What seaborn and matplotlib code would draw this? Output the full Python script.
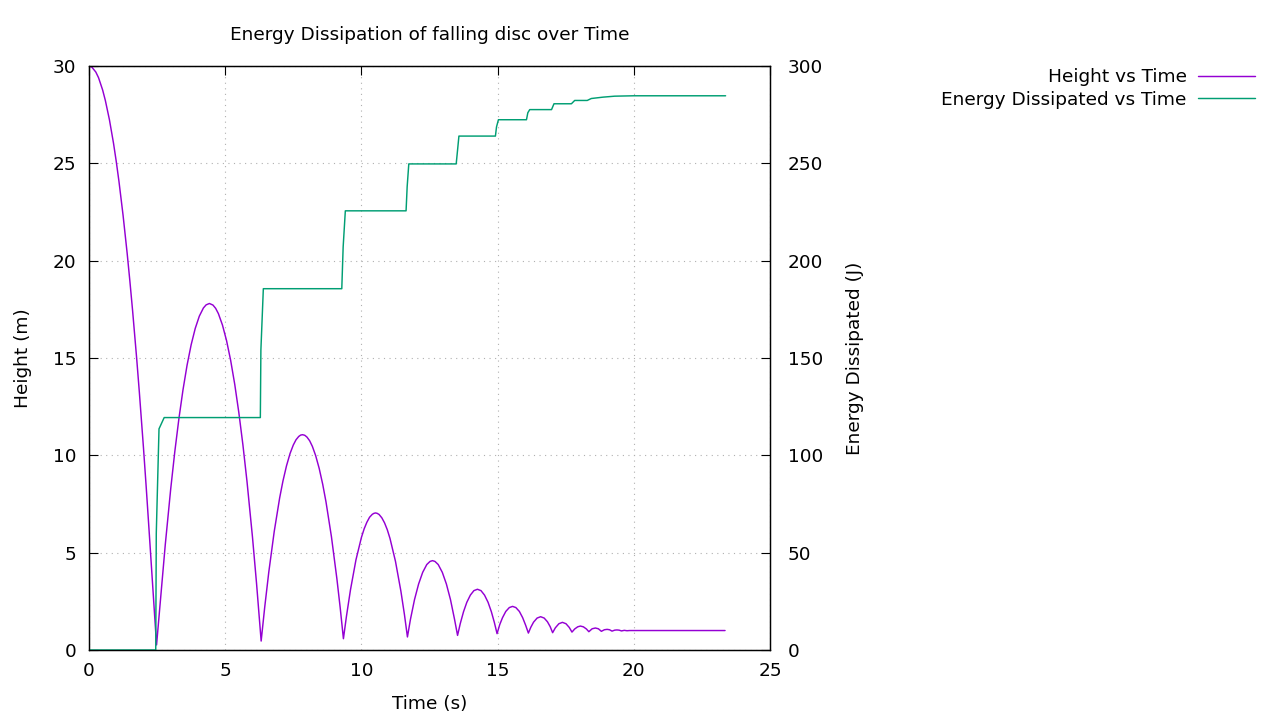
import matplotlib
matplotlib.use("Agg")
import matplotlib.pyplot as plt
import seaborn as sns
import pandas as pd

# Height of the disc
t_height = [0, 0.1, 0.25, 0.35, 0.5, 0.6, 0.75, 0.9, 1.0, 1.1, 1.25, 1.4, 1.5, 1.6, 1.75, 1.85,
            2.0, 2.1, 2.2, 2.35, 2.48,
            2.6, 2.8, 3.0, 3.15, 3.3, 3.45, 3.6, 3.75, 3.9, 4.05, 4.2, 4.3, 4.42, 4.55, 4.65, 4.75,
            4.9, 5.05, 5.2, 5.35, 5.5, 5.65, 5.8, 6.0, 6.15, 6.32,
            6.45, 6.6, 6.8, 7.0, 7.12, 7.25, 7.38, 7.5, 7.6, 7.7, 7.77, 7.84, 7.92, 8.0, 8.1, 8.2,
            8.32, 8.45, 8.58, 8.7, 8.9, 9.1, 9.22, 9.34,
            9.45, 9.6, 9.8, 10.0, 10.1, 10.2, 10.3, 10.4, 10.46, 10.52, 10.58, 10.65, 10.75, 10.85,
            10.95, 11.05, 11.25, 11.45, 11.58, 11.69,
            11.8, 11.95, 12.1, 12.25, 12.4, 12.52, 12.61, 12.7, 12.82, 12.97, 13.12, 13.27, 13.42, 13.53,
            13.63, 13.75, 13.87, 14.0, 14.13, 14.26, 14.39, 14.52, 14.65, 14.77, 14.88, 14.98,
            15.08, 15.18, 15.3, 15.43, 15.55, 15.67, 15.8, 15.92, 16.03, 16.13,
            16.22, 16.32, 16.45, 16.58, 16.71, 16.83, 16.93, 17.02,
            17.12, 17.25, 17.38, 17.51, 17.63, 17.73,
            17.83, 17.94, 18.04, 18.15, 18.26, 18.35,
            18.47, 18.59, 18.7, 18.81,
            18.92, 19.02, 19.11, 19.2,
            19.3, 19.38, 19.46, 19.55,
            19.65, 19.75, 19.85, 23.35]
height = [30, 29.95, 29.69, 29.40, 28.77, 28.23, 27.24, 26.03, 25.10, 24.07, 22.34, 20.39, 18.96, 17.44,
          14.98, 13.21, 10.38, 8.37, 6.26, 3.0, 0.26,
          2.17, 5.41, 8.28, 10.19, 11.88, 13.36, 14.63, 15.68, 16.52, 17.15, 17.57, 17.73, 17.8, 17.72,
          17.55, 17.28, 16.69, 15.89, 14.88, 13.65, 12.2, 10.54, 8.66, 5.82, 3.43, 0.46,
          2.19, 4.0, 6.09, 7.82, 8.68, 9.46, 10.09, 10.53, 10.80, 10.97, 11.04, 11.06, 11.03, 10.94,
          10.75, 10.46, 9.99, 9.33, 8.51, 7.61, 5.82, 3.66, 2.19, 0.58,
          1.72, 3.10, 4.63, 5.78, 6.22, 6.56, 6.82, 6.97, 7.02, 7.04, 7.02, 6.96, 6.79, 6.53,
          6.18, 5.73, 4.56, 3.02, 1.82, 0.67,
          1.57, 2.59, 3.39, 3.99, 4.39, 4.55, 4.59, 4.55, 4.39, 3.99, 3.39, 2.59, 1.57, 0.75,
          1.36, 1.97, 2.45, 2.82, 3.05, 3.12, 3.05, 2.82, 2.45, 1.97, 1.42, 0.84,
          1.31, 1.66, 1.98, 2.18, 2.24, 2.18, 1.98, 1.66, 1.27, 0.87,
          1.17, 1.43, 1.64, 1.71, 1.64, 1.45, 1.20, 0.89,
          1.14, 1.35, 1.42, 1.35, 1.16, 0.92,
          1.08, 1.19, 1.23, 1.19, 1.08, 0.94,
          1.09, 1.13, 1.09, 0.96,
          1.04, 1.06, 1.04, 0.97,
          1.02, 1.03, 1.02, 0.98,
          1.01, 0.99, 1.0, 1.0]

# Cumulative energy dissipated
t_energy = [0, 2.45, 2.47, 2.57, 2.76, 6.29, 6.31, 6.40, 9.28, 9.33, 9.41,
            11.64, 11.68, 11.74, 13.48, 13.53, 13.58, 14.92, 14.96, 15.03,
            16.06, 16.11, 16.18, 16.98, 17.07, 17.71, 17.83, 18.29, 18.44,
            18.87, 19.30, 20.0, 23.37]
energy = [0, 0, 60, 113.6, 119.4, 119.4, 154, 185.6, 185.6, 207, 225.6,
          225.6, 238, 249.7, 249.7, 256.8, 264, 264, 268.7, 272.4,
          272.4, 276, 277.6, 277.6, 280.6, 280.6, 282.3, 282.3, 283.3,
          284, 284.5, 284.7, 284.7]

df_h = pd.DataFrame({"t": t_height, "h": height})
df_e = pd.DataFrame({"t": t_energy, "e": energy})

sns.set_theme(style="white")
plt.rcParams["font.family"] = ["DejaVu Sans"]
plt.rcParams["text.color"] = "black"
plt.rcParams["axes.labelcolor"] = "black"
fs = 13.3

fig = plt.figure(figsize=(12.8, 7.2), dpi=100)
ax = fig.add_axes([89 / 1280, 1 - 650 / 720, 681 / 1280, 584 / 720])
ax2 = ax.twinx()

sns.lineplot(data=df_h, x="t", y="h", ax=ax, color="#9400d3", lw=1.05,
             estimator=None, sort=False, label="Height vs Time", legend=False)
sns.lineplot(data=df_e, x="t", y="e", ax=ax2, color="#009e73", lw=1.05,
             estimator=None, sort=False, label="Energy Dissipated vs Time", legend=False)

ax.set_xlim(0, 25)
ax.set_ylim(0, 30)
ax2.set_ylim(0, 300)
ax.set_xticks([0, 5, 10, 15, 20, 25])
ax.set_yticks([0, 5, 10, 15, 20, 25, 30])
ax2.set_yticks([0, 50, 100, 150, 200, 250, 300])

ax.grid(True, color="#b0b0b0", linestyle=(0, (1, 4)), lw=0.8)
ax2.grid(False)

for a in (ax, ax2):
    for s in a.spines.values():
        s.set_color("black")
        s.set_linewidth(0.9)
        s.set_visible(True)

ax.tick_params(axis="x", direction="in", length=6.5, width=0.8, top=True,
               labelsize=fs, pad=9, colors="black")
ax.tick_params(axis="y", direction="in", length=6.5, width=0.8, left=True,
               right=False, labelsize=fs, pad=9, colors="black")
ax2.tick_params(axis="y", direction="in", length=6.5, width=0.8, right=True,
                labelsize=fs, pad=13, colors="black")

ax.set_xlabel("Time (s)", fontsize=fs, labelpad=10.5)
ax.set_ylabel("Height (m)", fontsize=fs, labelpad=15)
ax2.set_ylabel("Energy Dissipated (J)", fontsize=fs, labelpad=16.5)
ax.set_title("Energy Dissipation of falling disc over Time", fontsize=fs, pad=18.5)

h1, l1 = ax.get_legend_handles_labels()
h2, l2 = ax2.get_legend_handles_labels()
fig.legend(h1 + h2, l1 + l2, loc="upper right", bbox_to_anchor=(1255 / 1280, 1 - 68 / 720),
           frameon=False, markerfirst=False, handlelength=3.1, handletextpad=0.6,
           labelspacing=0.25, borderpad=0, borderaxespad=0, fontsize=fs)

fig.savefig("out.png", dpi=100)
